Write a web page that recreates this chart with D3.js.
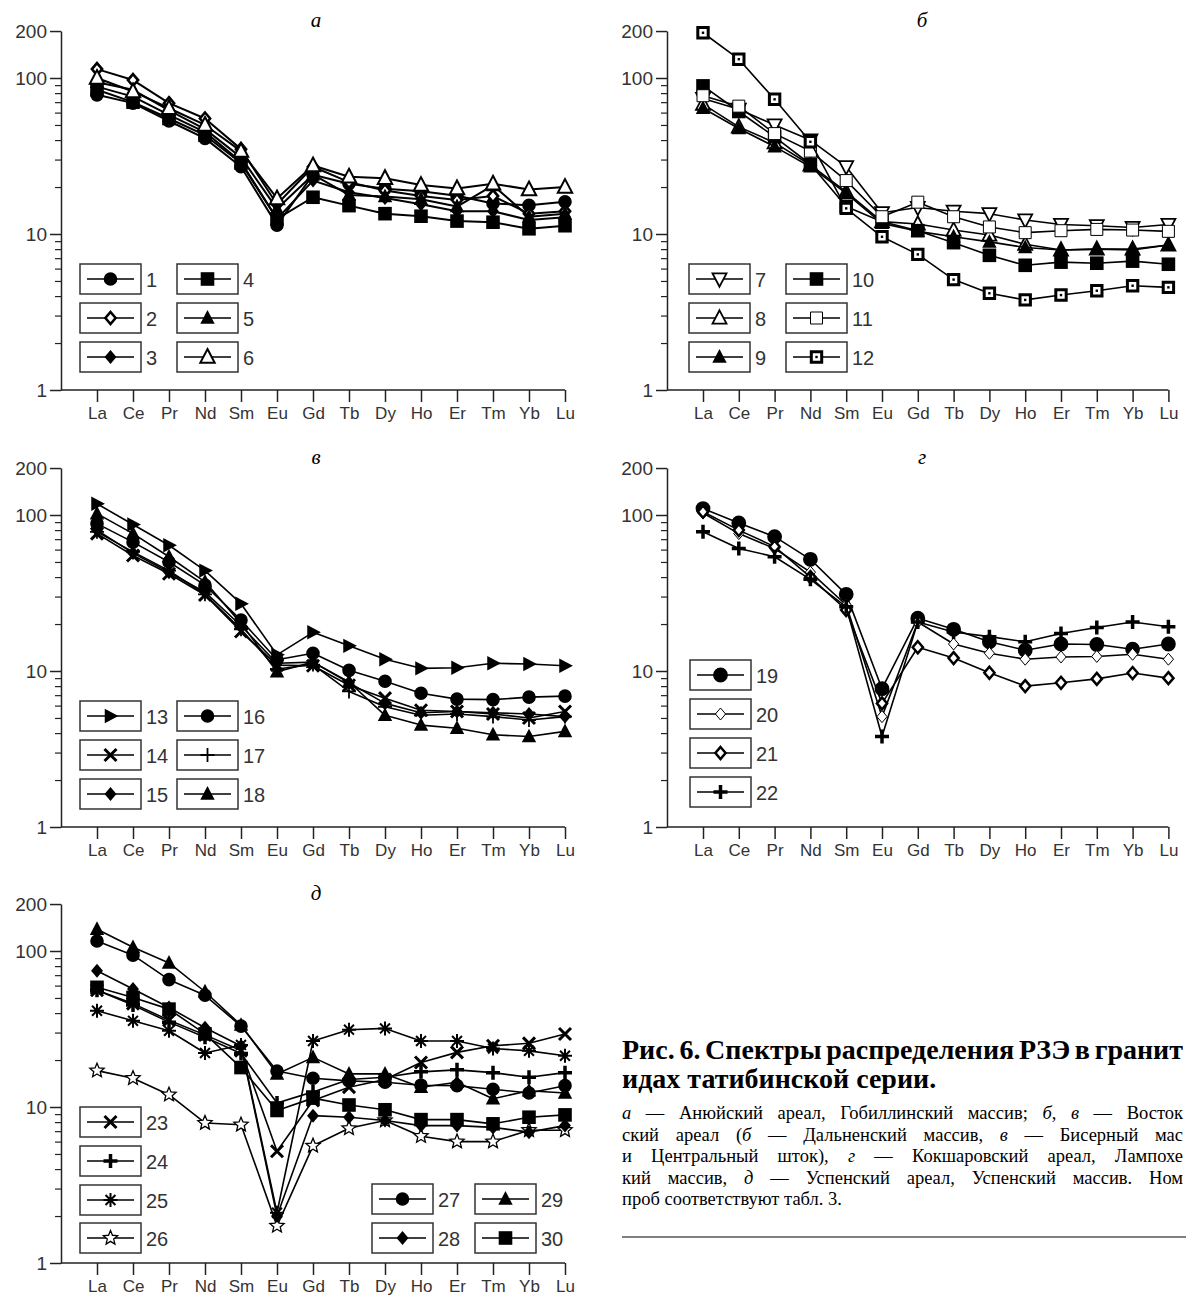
<!DOCTYPE html>
<html>
<head>
<meta charset="utf-8">
<script src="https://cdn.jsdelivr.net/npm/d3@7"></script>
<style>
  body { margin: 0; background: #fff; }
  svg { display: block; }
</style>
</head>
<body>
<svg id="fig" width="1186" height="1295"></svg>
<script>
// REE elements along the x axis, and the y tick labels
const elements = ["La", "Ce", "Pr", "Nd", "Sm", "Eu", "Gd", "Tb", "Dy", "Ho", "Er", "Tm", "Yb", "Lu"];
const yMajor = [1, 10, 100, 200];
const yMinor = [2, 3, 4, 5, 6, 7, 8, 9, 20, 30, 40, 50, 60, 70, 80, 90];

// а — Гобиллинский массив
const s1 = [78, 69, 53, 41, 27, 11.4, 24, 21, 19.5, 18.8, 17.6, 15.7, 15.3, 16.1];
const s2 = [114, 97, 69, 55, 35, 15.5, 27, 21.5, 19, 17.5, 16.5, 17.5, 13.5, 14];
const s3 = [88, 76, 58, 45, 29, 12.5, 22, 18.5, 17, 15.5, 14, 14, 12.3, 12.8];
const s4 = [84, 70, 55, 43, 28.5, 12.5, 17.2, 15.2, 13.5, 13, 12.1, 11.9, 10.8, 11.3];
const s5 = [94, 84, 62, 47, 31, 14.5, 24, 17.8, 17.4, 16.7, 15, 20.5, 12.9, 13.5];
const s6 = [100, 82, 64, 50, 34, 16.9, 27.5, 23.3, 22.8, 20.6, 19.6, 21, 19.3, 20];
// б — Дальненский массив
const s7 = [74, 63, 50, 40, 27, 13.7, 14.8, 14, 13.5, 12.3, 11.5, 11.3, 11, 11.5];
const s8 = [68, 48.6, 38.5, 27.7, 18.6, 12, 11.6, 10.6, 9.85, 8.6, 7.9, 8, 8, 8.5];
const s9 = [64, 47.5, 36.3, 27, 18.2, 11.7, 10.4, 9.6, 8.9, 8.2, 7.9, 8, 7.9, 8.5];
const s10 = [89, 61, 42, 28, 15, 12, 10.5, 8.8, 7.3, 6.3, 6.6, 6.5, 6.7, 6.4];
const s11 = [77, 66, 44, 34, 22, 12.9, 16, 12.9, 11.1, 10.2, 10.5, 10.7, 10.6, 10.4];
const s12 = [195, 132, 73, 39, 14.6, 9.6, 7.4, 5.1, 4.17, 3.78, 4.06, 4.33, 4.66, 4.55];
// в — Бисерный массив и Центральный шток
const s13 = [118, 87, 64, 44, 27, 12.7, 17.7, 14.5, 11.9, 10.4, 10.5, 11.2, 11.1, 10.8];
const s14 = [76, 55, 42, 30.7, 17.9, 10.9, 10.8, 8.1, 6.7, 5.6, 5.5, 5.3, 5.0, 5.5];
const s15 = [80, 57, 43, 32, 19.5, 11.2, 11.4, 8.4, 6.2, 5.4, 5.5, 5.4, 5.3, 5.1];
const s16 = [88, 67, 50, 35.5, 21.2, 11.8, 13, 10.1, 8.6, 7.2, 6.6, 6.55, 6.8, 6.9];
const s17 = [78, 58, 44, 31, 18.5, 10.3, 11, 7.4, 5.9, 5.2, 5.3, 5.1, 4.85, 5.1];
const s18 = [102, 76, 54, 37.3, 20.2, 9.9, 11.4, 8.5, 5.2, 4.5, 4.3, 3.9, 3.8, 4.1];
// г — Кокшаровский ареал
const s19 = [110, 89, 72.6, 52, 31, 7.7, 21.8, 18.5, 15.4, 13.6, 14.9, 14.8, 13.8, 14.9];
const s20 = [103, 76, 61, 43, 26.5, 5.1, 20.6, 14.9, 13, 11.9, 12.3, 12.4, 12.8, 11.9];
const s21 = [105, 80, 62.7, 40, 24.6, 6.2, 14.2, 12.1, 9.75, 8.0, 8.4, 8.9, 9.7, 9.0];
const s22 = [78, 61, 54, 38.7, 25.8, 3.8, 20.6, 17.8, 16.6, 15.4, 17.4, 19, 20.6, 19.2];
// д — Успенский массив
const s23 = [56, 46, 36, 29, 23, 5.2, 11, 13.4, 15, 19.3, 22.4, 24.7, 25.6, 29.4];
const s24 = [56, 45, 35, 28, 22, 10.6, 12.5, 15, 15.5, 16.8, 17.3, 16.6, 15.5, 16.6];
const s25 = [41.4, 35.7, 30.8, 22.2, 25, 2.1, 26.5, 31.3, 31.9, 26.5, 26.5, 23.7, 22.9, 21.3];
const s26 = [17.1, 15.3, 12, 7.9, 7.7, 1.73, 5.64, 7.3, 8.2, 6.5, 6.0, 6.0, 7.1, 7.1];
const s27 = [116, 94, 65.5, 52, 33, 17, 15.3, 14.7, 14.4, 13.8, 13.7, 13, 12.3, 13.7];
const s28 = [74.8, 57, 43.4, 32.2, 24.6, 2.0, 8.8, 8.6, 8.2, 7.6, 7.6, 7.4, 6.9, 7.6];
const s29 = [138, 105.6, 83.8, 54.8, 33.5, 16.3, 20.8, 16.3, 16.3, 13.4, 14.4, 11.3, 12.7, 12.3];
const s30 = [58.5, 50.4, 42.4, 29.4, 17.9, 9.5, 11.4, 10.3, 9.6, 8.3, 8.3, 7.8, 8.6, 8.9];

// marker look for each sample number
const markerStyle = {
  1: {shape: "circle", r: 6.8, fill: "#000"},
  2: {shape: "diamond", r: 6, fill: "#fff", sw: 2.6},
  3: {shape: "diamond", r: 7, fill: "#000"},
  4: {shape: "square", r: 6.8, fill: "#000"},
  5: {shape: "triangle", r: 7.2, fill: "#000"},
  6: {shape: "triangle", r: 7.2, fill: "#fff", sw: 2},
  7: {shape: "triangleDown", r: 7, fill: "#fff", sw: 1.8},
  8: {shape: "triangle", r: 7, fill: "#fff", sw: 1.8},
  9: {shape: "triangle", r: 7.2, fill: "#000"},
  10: {shape: "square", r: 6.8, fill: "#000"},
  11: {shape: "square", r: 6, fill: "#fff", sw: 1},
  12: {shape: "square", r: 5.2, fill: "#fff", sw: 3, dot: true},
  13: {shape: "triangleRight", r: 7.2, fill: "#000"},
  14: {shape: "x", r: 6, sw: 3},
  15: {shape: "diamond", r: 7, fill: "#000"},
  16: {shape: "circle", r: 6.8, fill: "#000"},
  17: {shape: "plus", r: 7, sw: 1.8},
  18: {shape: "triangle", r: 7.2, fill: "#000"},
  19: {shape: "circle", r: 7.4, fill: "#000"},
  20: {shape: "diamond", r: 6, fill: "#fff", sw: 1},
  21: {shape: "diamond", r: 6, fill: "#fff", sw: 2.5},
  22: {shape: "plus", r: 7, sw: 3.5},
  23: {shape: "x", r: 6, sw: 3},
  24: {shape: "plus", r: 7, sw: 3.5},
  25: {shape: "asterisk", r: 7, sw: 2},
  26: {shape: "star", r: 7.5, fill: "#fff", sw: 1.3},
  27: {shape: "circle", r: 6.8, fill: "#000"},
  28: {shape: "diamond", r: 7, fill: "#000"},
  29: {shape: "triangle", r: 7.2, fill: "#000"},
  30: {shape: "square", r: 6.8, fill: "#000"}
};

const panels = [
  {title: "а", left: 61, bottom: 390, first: 97, step: 36, lw: 2,
   series: [[1, s1], [2, s2], [3, s3], [4, s4], [5, s5], [6, s6]],
   legend: {cols: [80, 177], rows: [-126, -87, -48], ids: [[1, 2, 3], [4, 5, 6]]}},
  {title: "б", left: 667, bottom: 390, first: 703, step: 35.8, lw: 1.6,
   series: [[7, s7], [8, s8], [9, s9], [10, s10], [11, s11], [12, s12]],
   legend: {cols: [689, 786], rows: [-126, -87, -48], ids: [[7, 8, 9], [10, 11, 12]]}},
  {title: "в", left: 61, bottom: 827, first: 97, step: 36, lw: 1.6,
   series: [[13, s13], [14, s14], [15, s15], [16, s16], [17, s17], [18, s18]],
   legend: {cols: [80, 177], rows: [-126, -87, -48], ids: [[13, 14, 15], [16, 17, 18]]}},
  {title: "г", left: 667, bottom: 827, first: 703, step: 35.8, lw: 1.6,
   series: [[19, s19], [20, s20], [21, s21], [22, s22]],
   legend: {cols: [690], rows: [-167, -128, -89, -50], ids: [[19, 20, 21, 22]]}},
  {title: "д", left: 61, bottom: 1263, first: 97, step: 36, lw: 1.6,
   series: [[23, s23], [24, s24], [25, s25], [26, s26], [27, s27], [28, s28], [29, s29], [30, s30]],
   legend: {cols: [80], rows: [-156, -117, -78, -40], ids: [[23, 24, 25, 26]],
            extra: {cols: [372, 475], rows: [-79, -40], ids: [[27, 28], [29, 30]]}}}
];

const sans = "'Liberation Sans', Arial, sans-serif";
const serif = "'Liberation Serif', 'Times New Roman', serif";

const svg = d3.select("#fig");
svg.append("rect").attr("width", 1186).attr("height", 1295).attr("fill", "#fff");

function shapePath(shape, r) {
  const p = d3.path();
  if (shape === "circle") {
    p.moveTo(r, 0); p.arc(0, 0, r, 0, 2 * Math.PI);
  } else if (shape === "square") {
    p.rect(-r, -r, 2 * r, 2 * r);
  } else if (shape === "triangle") {
    p.moveTo(0, -r * 1.1); p.lineTo(r, r * 0.8); p.lineTo(-r, r * 0.8); p.closePath();
  } else if (shape === "triangleDown") {
    p.moveTo(0, r * 1.1); p.lineTo(r, -r * 0.8); p.lineTo(-r, -r * 0.8); p.closePath();
  } else if (shape === "triangleRight") {
    p.moveTo(r * 1.1, 0); p.lineTo(-r * 0.8, -r); p.lineTo(-r * 0.8, r); p.closePath();
  } else if (shape === "diamond") {
    p.moveTo(0, -r); p.lineTo(r * 0.85, 0); p.lineTo(0, r); p.lineTo(-r * 0.85, 0); p.closePath();
  } else if (shape === "plus") {
    p.moveTo(-r, 0); p.lineTo(r, 0); p.moveTo(0, -r); p.lineTo(0, r);
  } else if (shape === "x") {
    p.moveTo(-r, -r); p.lineTo(r, r); p.moveTo(-r, r); p.lineTo(r, -r);
  } else if (shape === "asterisk") {
    for (let k = 0; k < 4; k++) {
      const a = k * Math.PI / 4;
      p.moveTo(-r * Math.cos(a), -r * Math.sin(a)); p.lineTo(r * Math.cos(a), r * Math.sin(a));
    }
  } else if (shape === "star") {
    for (let k = 0; k < 10; k++) {
      const a = -Math.PI / 2 + k * Math.PI / 5, rr = k % 2 ? r * 0.45 : r;
      if (k === 0) p.moveTo(rr * Math.cos(a), rr * Math.sin(a));
      else p.lineTo(rr * Math.cos(a), rr * Math.sin(a));
    }
    p.closePath();
  }
  return p.toString();
}

function drawMarker(g, id, cx, cy) {
  const m = markerStyle[id];
  const stroked = m.sw !== undefined;
  g.append("path")
    .attr("d", shapePath(m.shape, m.r))
    .attr("transform", `translate(${cx},${cy})`)
    .attr("fill", m.fill || "none")
    .attr("stroke", stroked ? "#000" : "none")
    .attr("stroke-width", m.sw || 0);
  if (m.dot) {
    g.append("rect").attr("x", cx - 1.2).attr("y", cy - 1.2)
      .attr("width", 2.4).attr("height", 2.4).attr("fill", "#000");
  }
}

function drawLegendBox(g, id, x, y) {
  g.append("rect").attr("x", x).attr("y", y).attr("width", 61).attr("height", 30)
    .attr("fill", "#fff").attr("stroke", "#333").attr("stroke-width", 1.5);
  g.append("line").attr("x1", x + 7).attr("x2", x + 54).attr("y1", y + 15).attr("y2", y + 15)
    .attr("stroke", "#000").attr("stroke-width", 1.6);
  drawMarker(g, id, x + 30.5, y + 15);
  g.append("text").attr("x", x + 66).attr("y", y + 23).text(id)
    .attr("font-family", sans).attr("font-size", 20).attr("fill", "#333");
}

panels.forEach(pn => {
  const g = svg.append("g");
  const last = pn.first + pn.step * (elements.length - 1);
  const x = d3.scalePoint().domain(elements).range([pn.first, last]);
  const decade = 156;
  const y = d3.scaleLog().domain([1, 200]).range([pn.bottom, pn.bottom - decade * Math.log10(200)]);

  // y axis: major ticks with labels, minor ticks without
  const yAx = g.append("g").attr("transform", `translate(${pn.left},0)`)
    .call(d3.axisLeft(y).tickValues(yMajor).tickFormat(d3.format("d")).tickSize(11).tickSizeOuter(0).tickPadding(3));
  yAx.selectAll("text").attr("font-family", sans).attr("font-size", 19).attr("fill", "#333");
  yAx.selectAll("line, path").attr("stroke", "#222").attr("stroke-width", 1.5);
  const yMin = g.append("g").attr("transform", `translate(${pn.left},0)`)
    .call(d3.axisLeft(y).tickValues(yMinor).tickFormat("").tickSize(6).tickSizeOuter(0));
  yMin.select(".domain").remove();
  yMin.selectAll("line").attr("stroke", "#222").attr("stroke-width", 1.2);

  // x axis
  const xAx = g.append("g").attr("transform", `translate(0,${pn.bottom})`)
    .call(d3.axisBottom(x).tickSize(12).tickPadding(5));
  xAx.select(".domain").remove();
  xAx.selectAll("line").attr("stroke", "#222").attr("stroke-width", 1.5);
  xAx.selectAll("text").attr("font-family", sans).attr("font-size", 17).attr("fill", "#333");
  g.append("line").attr("x1", pn.left).attr("x2", last).attr("y1", pn.bottom).attr("y2", pn.bottom)
    .attr("stroke", "#222").attr("stroke-width", 1.5);

  // panel letter
  g.append("text").attr("x", pn.left + 255).attr("y", pn.bottom - 363).attr("text-anchor", "middle")
    .attr("font-family", serif).attr("font-style", "italic")
    .attr("font-size", 21).text(pn.title);

  // spectra
  const line = d3.line().x((d, i) => x(elements[i])).y(d => y(d));
  pn.series.forEach(([id, vals]) => {
    g.append("path").attr("d", line(vals)).attr("fill", "none")
      .attr("stroke", "#000").attr("stroke-width", pn.lw).attr("stroke-linejoin", "round");
    vals.forEach((v, i) => drawMarker(g, id, x(elements[i]), y(v)));
  });

  // legend
  const lg = g.append("g");
  [pn.legend, pn.legend.extra].filter(Boolean).forEach(L => {
    L.cols.forEach((cx, ci) => L.ids[ci].forEach((id, ri) => drawLegendBox(lg, id, cx, pn.bottom + L.rows[ri])));
  });
});

// figure caption: a justified column that runs up to the right page edge
const capLeft = 622, capRight = 1183;
const cap = svg.append("g").attr("font-family", serif);
[["Рис. 6. Спектры распределения РЗЭ в гранит", 1059, true], ["идах татибинской серии.", 1088, false]].forEach(([t, yy, fit]) => {
  const el = cap.append("text").attr("x", capLeft).attr("y", yy).attr("font-size", 28).attr("font-weight", "bold").text(t);
  const w = el.node().getComputedTextLength();
  if (fit) {
    const spaces = t.split(" ").length - 1;
    el.attr("word-spacing", (capRight - capLeft - w) / spaces);
  }
});
const body = [
  [["а", 1], [" — Анюйский ареал, Гобиллинский массив; ", 0], ["б", 1], [", ", 0], ["в", 1], [" — Восток", 0]],
  [["ский ареал (", 0], ["б", 1], [" — Дальненский массив, ", 0], ["в", 1], [" — Бисерный мас", 0]],
  [["и Центральный шток), ", 0], ["г", 1], [" — Кокшаровский ареал, Лампохе", 0]],
  [["кий массив, ", 0], ["д", 1], [" — Успенский ареал, Успенский массив. Ном", 0]],
  [["проб соответствуют табл. 3.", 0]]
];
body.forEach((parts, i) => {
  const t = cap.append("text").attr("x", capLeft).attr("y", 1119 + i * 21.6).attr("font-size", 18.5);
  parts.forEach(([s, it]) => t.append("tspan").attr("font-style", it ? "italic" : "normal").text(s));
  if (i < body.length - 1) {
    const natural = t.node().getComputedTextLength();
    const spaces = parts.map(p => p[0]).join("").split(" ").length - 1;
    t.attr("word-spacing", (capRight - capLeft - natural) / spaces);
  }
});
cap.append("line").attr("x1", capLeft).attr("x2", 1186).attr("y1", 1237).attr("y2", 1237)
  .attr("stroke", "#000").attr("stroke-width", 1);
</script>
</body>
</html>
